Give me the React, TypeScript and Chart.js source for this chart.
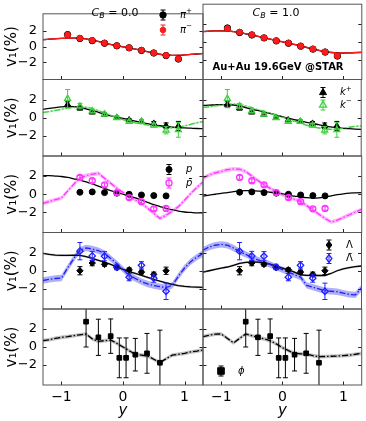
import React, { useEffect, useRef } from 'react';
import { Chart, registerables } from 'chart.js';
Chart.register(...registerables);

const W = 366;
const H = 421;
const FONT = 'DejaVu Sans';

// ---------- DATA ----------
const CURVE_X = [-1.3, -1.2, -1.1, -1.0, -0.9, -0.8, -0.7, -0.6, -0.5, -0.4, -0.3, -0.2, -0.1, 0.0, 0.1, 0.2, 0.3, 0.4, 0.5, 0.6, 0.7, 0.8, 0.9, 1.0, 1.1, 1.2, 1.3];
const X_TICKS = [-1, 0, 1];
const Y_TICKS = [-2, 0, 2];

// pions
const PI_X = [-0.9, -0.7, -0.5, -0.3, -0.1, 0.1, 0.3, 0.5, 0.7, 0.9];
const PI_PLUS = [1.54, 1.05, 0.77, 0.44, 0.11, -0.15, -0.48, -0.81, -1.14, -1.58];
const PI_PLUS_ERR = [0.18, 0.15, 0.12, 0.12, 0.12, 0.12, 0.12, 0.12, 0.15, 0.18];
const PI_MINUS = [1.5, 1.08, 0.8, 0.46, 0.13, -0.13, -0.46, -0.8, -1.12, -1.55];
const PI_MINUS_ERR = [0.18, 0.15, 0.12, 0.12, 0.12, 0.12, 0.12, 0.12, 0.15, 0.18];
const PI_PLUS_CURVE_CB0 = [0.88, 0.95, 1.0, 1.05, 1.08, 1.1, 1.08, 1.0, 0.85, 0.66, 0.46, 0.28, 0.12, -0.02, -0.16, -0.31, -0.48, -0.65, -0.82, -0.97, -1.07, -1.12, -1.11, -1.06, -1.0, -0.94, -0.88];
const PI_MINUS_CURVE_CB0 = [0.9, 0.97, 1.02, 1.06, 1.09, 1.1, 1.07, 0.98, 0.84, 0.65, 0.45, 0.27, 0.11, -0.03, -0.17, -0.32, -0.49, -0.66, -0.83, -0.98, -1.08, -1.12, -1.1, -1.05, -0.99, -0.93, -0.86];
const PI_PLUS_CURVE_CB1 = [1.15, 1.2, 1.22, 1.24, 1.22, 1.15, 1.05, 0.9, 0.75, 0.6, 0.45, 0.3, 0.14, 0.0, -0.15, -0.3, -0.47, -0.63, -0.8, -0.96, -1.1, -1.19, -1.24, -1.25, -1.23, -1.2, -1.18];
const PI_MINUS_CURVE_CB1 = [1.13, 1.19, 1.22, 1.23, 1.21, 1.14, 1.04, 0.9, 0.76, 0.61, 0.46, 0.31, 0.15, 0.01, -0.14, -0.29, -0.46, -0.62, -0.79, -0.95, -1.09, -1.18, -1.23, -1.24, -1.22, -1.19, -1.17];
const PI_BAND = 0.07;

// kaons
const K_X = [-0.9, -0.7, -0.5, -0.3, -0.1, 0.1, 0.3, 0.5, 0.7, 0.9];
const K_PLUS = [1.45, 1.05, 0.6, 0.37, 0.02, -0.25, -0.4, -0.62, -0.87, -0.9];
const K_PLUS_ERR = [0.3, 0.2, 0.15, 0.15, 0.15, 0.15, 0.15, 0.2, 0.3, 0.5];
const K_MINUS = [2.1, 1.27, 0.73, 0.37, 0.0, -0.43, -0.43, -0.83, -1.37, -1.34];
const K_MINUS_ERR = [1.0, 0.3, 0.2, 0.15, 0.15, 0.15, 0.15, 0.2, 0.4, 0.8];
const K_PLUS_CURVE_CB0 = [0.92, 1.02, 1.12, 1.2, 1.24, 1.22, 1.12, 0.98, 0.8, 0.6, 0.4, 0.2, 0.05, -0.08, -0.22, -0.38, -0.52, -0.65, -0.78, -0.88, -0.95, -1.02, -1.08, -1.12, -1.15, -1.18, -1.2];
const K_MINUS_CURVE_CB0 = [0.58, 0.68, 0.8, 0.92, 1.05, 1.15, 1.2, 1.15, 1.0, 0.78, 0.52, 0.26, 0.02, -0.2, -0.4, -0.56, -0.68, -0.78, -0.88, -0.98, -1.06, -1.1, -1.05, -0.9, -0.72, -0.55, -0.42];
const K_PLUS_CURVE_CB1 = [1.35, 1.38, 1.42, 1.45, 1.45, 1.4, 1.3, 1.12, 0.95, 0.8, 0.65, 0.48, 0.3, 0.12, -0.05, -0.2, -0.35, -0.5, -0.62, -0.76, -0.9, -1.0, -1.1, -1.16, -1.2, -1.24, -1.28];
const K_MINUS_CURVE_CB1 = [1.13, 1.2, 1.3, 1.4, 1.48, 1.5, 1.45, 1.3, 1.1, 0.9, 0.7, 0.5, 0.3, 0.08, -0.15, -0.38, -0.6, -0.8, -0.98, -1.12, -1.22, -1.28, -1.25, -1.15, -1.05, -0.95, -0.9];
const K_BAND = 0.1;

// protons
const P_X = [-0.7, -0.5, -0.3, -0.1, 0.1, 0.3, 0.5, 0.7];
const P_VAL = [0.22, 0.26, 0.18, 0.12, 0.0, -0.08, -0.15, -0.18];
const P_ERR = [0.1, 0.1, 0.1, 0.1, 0.1, 0.1, 0.1, 0.1];
const PBAR_VAL = [1.85, 1.48, 1.03, 0.18, -0.37, -0.82, -1.6, -1.56];
const PBAR_ERR = [0.2, 0.2, 0.2, 0.2, 0.2, 0.2, 0.2, 0.2];
const P_CURVE_CB0 = [2.05, 2.05, 2.0, 1.95, 1.85, 1.7, 1.55, 1.35, 1.15, 0.9, 0.65, 0.4, 0.2, 0.0, -0.2, -0.4, -0.65, -0.9, -1.15, -1.35, -1.55, -1.7, -1.85, -1.95, -2.0, -2.05, -2.05];
const PBAR_CURVE_CB0 = [-1.0, -0.8, -0.6, -0.42, 0.35, 1.1, 1.78, 2.05, 2.2, 2.3, 1.75, 1.2, 0.67, 0.2, -0.26, -0.62, -1.0, -1.55, -2.1, -2.65, -2.3, -1.85, -1.37, -0.65, 0.07, 0.75, 1.35];
const P_CURVE_CB1 = [-0.2, -0.1, 0.0, 0.1, 0.18, 0.28, 0.37, 0.4, 0.4, 0.35, 0.3, 0.22, 0.15, 0.05, -0.1, -0.2, -0.3, -0.38, -0.42, -0.4, -0.3, -0.18, -0.05, 0.05, 0.12, 0.15, 0.18];
const PBAR_CURVE_CB1 = [1.78, 2.1, 2.35, 2.5, 2.7, 2.78, 2.75, 2.5, 2.0, 1.5, 1.03, 0.65, 0.3, -0.02, -0.33, -0.55, -0.8, -1.25, -1.74, -2.2, -2.65, -3.04, -2.85, -2.55, -2.25, -1.95, -1.67];
const PBAR_BAND = 0.22;

// lambdas
const L_X = [-0.7, -0.5, -0.3, -0.1, 0.1, 0.3, 0.5, 0.7];
const L_VAL = [0.0, 0.85, 0.7, 0.33, 0.11, -0.15, -0.4, 0.0];
const L_ERR = [0.45, 0.3, 0.2, 0.2, 0.2, 0.2, 0.25, 0.4];
const LBAR_VAL = [2.15, 1.63, 1.6, 0.41, -0.7, 0.6, -0.81, -2.26];
const LBAR_ERR = [0.95, 0.5, 0.5, 0.3, 0.4, 0.4, 0.45, 0.9];
const L_CURVE_CB0 = [1.9, 1.8, 1.72, 1.68, 1.68, 1.7, 1.68, 1.55, 1.35, 1.15, 0.95, 0.7, 0.42, 0.15, -0.1, -0.3, -0.5, -0.72, -0.95, -1.15, -1.33, -1.5, -1.63, -1.72, -1.78, -1.8, -1.82];
const LBAR_CURVE_CB0 = [-1.07, -0.95, -0.85, -0.8, 0.3, 1.35, 2.26, 2.5, 2.4, 2.2, 1.9, 1.35, 0.78, 0.15, -0.5, -0.85, -1.2, -1.45, -1.63, -1.75, -1.85, -1.6, -0.6, 0.3, 1.0, 1.5, 1.9];
const L_CURVE_CB1 = [-0.15, 0.0, 0.15, 0.3, 0.41, 0.6, 0.8, 0.92, 0.96, 0.94, 0.9, 0.72, 0.5, 0.3, 0.11, -0.15, -0.44, -0.5, -0.52, -0.52, -0.52, -0.3, 0.0, 0.2, 0.35, 0.45, 0.52];
const LBAR_CURVE_CB1 = [2.26, 2.6, 2.8, 2.9, 2.8, 2.5, 2.1, 1.8, 1.5, 1.2, 0.96, 0.68, 0.4, 0.12, -0.15, -0.42, -0.7, -1.6, -1.8, -2.0, -2.2, -2.25, -2.3, -2.45, -2.6, -2.65, -1.9];
const L_BAND = 0.12;
const LBAR_BAND = 0.35;

// phi
const PHI_X = [-0.6, -0.4, -0.2, -0.06, 0.05, 0.2, 0.39, 0.6];
const PHI_VAL = [2.8, 1.07, 1.2, -1.2, -1.2, -0.85, -0.7, -1.74];
const PHI_ERR = [2.8, 2.0, 1.9, 2.2, 2.2, 1.8, 2.2, 3.6];
const PHI_CURVE_CB0 = [0.7, 0.8, 0.95, 1.07, 1.15, 1.25, 1.35, 1.44, 0.9, 0.62, 0.7, 0.78, 0.4, 0.0, -0.4, -0.8, -0.9, -1.0, -1.35, -1.74, -1.3, -0.9, -0.8, -0.7, -0.55, -0.45, -0.33];
const PHI_CURVE_CB1 = [1.15, 1.3, 1.42, 1.44, 0.95, 0.45, 0.95, 1.44, 1.25, 1.07, 0.9, 0.7, 0.35, -0.07, -0.4, -0.7, -0.75, -0.8, -0.95, -1.07, -1.05, -1.02, -1.0, -0.95, -0.9, -0.8, -0.7];
const PHI_BAND = 0.2;

// ---------- LAYOUT ----------
const COL_X: [number, number][] = [[43, 203], [203, 362.5]];
const ROW_Y: [number, number][] = [[3, 79.5], [79.5, 156], [156, 232.5], [232.5, 309], [309, 385]];

type Style = 'circle' | 'triangle' | 'rectRot' | 'rect';
type Curve = { v: number[]; color: string; width?: number; dash?: number[]; band?: number; bandColor?: string; smooth?: boolean };
type Pts = { x: number[]; y: number[]; e: number[]; style: Style; color: string; open?: boolean; r?: number };
type Seg = { t: string; it?: boolean; sup?: boolean; sub?: boolean; bold?: boolean };
type Leg = { x: number; y: number; style: Style; color: string; open?: boolean; r?: number; label: Seg[] };
type Txt = { cx: number; cy: number; size: number; segs: Seg[]; color?: string };
type Panel = { col: 0 | 1; row: number; curves: Curve[]; pts: Pts[]; legend: Leg[]; texts: Txt[] };

const RED = '#ff1a1a';
const GREEN = '#3fcf3f';
const MAG = '#ff33ff';
const BLUE = '#2020ff';
const DASHDOT = [6, 2, 1.5, 2];

const piPts: Pts[] = [
  { x: PI_X, y: PI_MINUS, e: PI_MINUS_ERR, style: 'circle', color: RED, r: 2.8 },
  { x: PI_X, y: PI_PLUS, e: PI_PLUS_ERR, style: 'circle', color: '#000', r: 3.2 },
];
const kPts: Pts[] = [
  { x: K_X, y: K_MINUS, e: K_MINUS_ERR, style: 'triangle', color: GREEN, open: true, r: 3.5 },
  { x: K_X, y: K_PLUS, e: K_PLUS_ERR, style: 'triangle', color: '#000', r: 3.5 },
];
const pPts: Pts[] = [
  { x: P_X, y: PBAR_VAL, e: PBAR_ERR, style: 'circle', color: MAG, open: true, r: 3 },
  { x: P_X, y: P_VAL, e: P_ERR, style: 'circle', color: '#000', r: 3 },
];
const lPts: Pts[] = [
  { x: L_X, y: LBAR_VAL, e: LBAR_ERR, style: 'rectRot', color: BLUE, open: true, r: 3.2 },
  { x: L_X, y: L_VAL, e: L_ERR, style: 'rectRot', color: '#000', r: 3.2 },
];
const phiPts: Pts[] = [{ x: PHI_X, y: PHI_VAL, e: PHI_ERR, style: 'rect', color: '#000', r: 3.3 }];

const cbText = (cx: number, val: string): Txt => ({
  cx, cy: 13, size: 11,
  segs: [{ t: 'C', it: true }, { t: 'B', it: true, sub: true }, { t: ' = ' + val }],
});

const PANELS: Panel[] = [
  {
    col: 0, row: 0,
    curves: [
      { v: PI_MINUS_CURVE_CB0, color: RED, band: PI_BAND, bandColor: 'rgba(255,110,110,0.55)', smooth: true },
      { v: PI_PLUS_CURVE_CB0, color: '#000', smooth: true },
    ],
    pts: piPts,
    legend: [
      { x: 163, y: 15, style: 'circle', color: '#000', r: 3.2, label: [{ t: 'π', it: true }, { t: '+', sup: true }] },
      { x: 163, y: 30, style: 'circle', color: RED, r: 2.8, label: [{ t: 'π', it: true }, { t: '−', sup: true }] },
    ],
    texts: [cbText(115, '0.0')],
  },
  {
    col: 1, row: 0,
    curves: [
      { v: PI_MINUS_CURVE_CB1, color: RED, band: PI_BAND, bandColor: 'rgba(255,110,110,0.55)', smooth: true },
      { v: PI_PLUS_CURVE_CB1, color: '#000', smooth: true },
    ],
    pts: piPts,
    legend: [],
    texts: [cbText(276, '1.0'), { cx: 278, cy: 67, size: 10, segs: [{ t: 'Au+Au 19.6GeV @STAR', bold: true }] }],
  },
  {
    col: 0, row: 1,
    curves: [
      { v: K_MINUS_CURVE_CB0, color: GREEN, dash: DASHDOT, band: K_BAND, bandColor: 'rgba(120,230,120,0.5)', smooth: true },
      { v: K_PLUS_CURVE_CB0, color: '#000', smooth: true },
    ],
    pts: kPts, legend: [], texts: [],
  },
  {
    col: 1, row: 1,
    curves: [
      { v: K_MINUS_CURVE_CB1, color: GREEN, dash: DASHDOT, band: K_BAND, bandColor: 'rgba(120,230,120,0.5)', smooth: true },
      { v: K_PLUS_CURVE_CB1, color: '#000', smooth: true },
    ],
    pts: kPts,
    legend: [
      { x: 323, y: 92.5, style: 'triangle', color: '#000', r: 3.5, label: [{ t: 'k', it: true }, { t: '+', sup: true }] },
      { x: 323, y: 105, style: 'triangle', color: GREEN, open: true, r: 3.5, label: [{ t: 'k', it: true }, { t: '−', sup: true }] },
    ],
    texts: [],
  },
  {
    col: 0, row: 2,
    curves: [
      { v: PBAR_CURVE_CB0, color: MAG, dash: DASHDOT, band: PBAR_BAND, bandColor: 'rgba(255,120,255,0.55)' },
      { v: P_CURVE_CB0, color: '#000', smooth: true },
    ],
    pts: pPts,
    legend: [
      { x: 169, y: 169.5, style: 'circle', color: '#000', label: [{ t: 'p', it: true }] },
      { x: 169, y: 183, style: 'circle', color: MAG, open: true, label: [{ t: 'p̄', it: true }] },
    ],
    texts: [],
  },
  {
    col: 1, row: 2,
    curves: [
      { v: PBAR_CURVE_CB1, color: MAG, dash: DASHDOT, band: PBAR_BAND, bandColor: 'rgba(255,120,255,0.55)' },
      { v: P_CURVE_CB1, color: '#000', smooth: true },
    ],
    pts: pPts, legend: [], texts: [],
  },
  {
    col: 0, row: 3,
    curves: [
      { v: LBAR_CURVE_CB0, color: BLUE, dash: DASHDOT, band: LBAR_BAND, bandColor: 'rgba(110,110,240,0.55)' },
      { v: L_CURVE_CB0, color: '#000', band: L_BAND, bandColor: 'rgba(150,150,150,0.5)' },
    ],
    pts: lPts, legend: [], texts: [],
  },
  {
    col: 1, row: 3,
    curves: [
      { v: LBAR_CURVE_CB1, color: BLUE, dash: DASHDOT, band: LBAR_BAND, bandColor: 'rgba(110,110,240,0.55)' },
      { v: L_CURVE_CB1, color: '#000', band: L_BAND, bandColor: 'rgba(150,150,150,0.5)' },
    ],
    pts: lPts,
    legend: [
      { x: 329, y: 245, style: 'rectRot', color: '#000', r: 3.2, label: [{ t: 'Λ' }] },
      { x: 329, y: 258.5, style: 'rectRot', color: BLUE, open: true, r: 3.2, label: [{ t: 'Λ̄' }] },
    ],
    texts: [],
  },
  {
    col: 0, row: 4,
    curves: [{ v: PHI_CURVE_CB0, color: '#000', dash: DASHDOT, band: PHI_BAND, bandColor: 'rgba(140,140,140,0.55)' }],
    pts: phiPts, legend: [], texts: [],
  },
  {
    col: 1, row: 4,
    curves: [{ v: PHI_CURVE_CB1, color: '#000', dash: DASHDOT, band: PHI_BAND, bandColor: 'rgba(140,140,140,0.55)' }],
    pts: phiPts,
    legend: [{ x: 221, y: 371, style: 'rect', color: '#000', r: 3.3, label: [{ t: 'ϕ', it: true }] }],
    texts: [],
  },
];

// ---------- HELPERS ----------
const xy = (xs: number[], ys: number[]) => xs.map((x, i) => ({ x, y: ys[i] }));
const fmt = (v: number) => (v < 0 ? '−' + Math.abs(v) : String(v));

function markerPath(ctx: CanvasRenderingContext2D, style: Style, x: number, y: number, r: number) {
  ctx.beginPath();
  if (style === 'circle') ctx.arc(x, y, r, 0, Math.PI * 2);
  else if (style === 'triangle') {
    ctx.moveTo(x, y - r * 1.15);
    ctx.lineTo(x + r, y + r * 0.6);
    ctx.lineTo(x - r, y + r * 0.6);
    ctx.closePath();
  } else if (style === 'rectRot') {
    ctx.moveTo(x, y - r * 1.2);
    ctx.lineTo(x + r * 0.9, y);
    ctx.lineTo(x, y + r * 1.2);
    ctx.lineTo(x - r * 0.9, y);
    ctx.closePath();
  } else {
    ctx.rect(x - r, y - r, 2 * r, 2 * r);
  }
}

function drawErr(ctx: CanvasRenderingContext2D, x: number, y1: number, y2: number, color: string) {
  ctx.strokeStyle = color;
  ctx.lineWidth = 1;
  ctx.beginPath();
  ctx.moveTo(x, y1);
  ctx.lineTo(x, y2);
  ctx.moveTo(x - 2.5, y1);
  ctx.lineTo(x + 2.5, y1);
  ctx.moveTo(x - 2.5, y2);
  ctx.lineTo(x + 2.5, y2);
  ctx.stroke();
}

function segFont(s: Seg, size: number) {
  const sz = s.sup || s.sub ? size * 0.72 : size;
  return `${s.it ? 'italic ' : ''}${s.bold ? 'bold ' : ''}${sz}px "${FONT}"`;
}

function drawRich(ctx: CanvasRenderingContext2D, segs: Seg[], x: number, cy: number, size: number, align: 'left' | 'center', color = '#000') {
  ctx.save();
  ctx.textBaseline = 'middle';
  ctx.textAlign = 'left';
  ctx.fillStyle = color;
  let total = 0;
  for (const s of segs) {
    ctx.font = segFont(s, size);
    total += ctx.measureText(s.t).width;
  }
  let cx = align === 'center' ? x - total / 2 : x;
  for (const s of segs) {
    ctx.font = segFont(s, size);
    const dy = s.sup ? -size * 0.35 : s.sub ? size * 0.3 : 0;
    ctx.fillText(s.t, cx, cy + dy);
    cx += ctx.measureText(s.t).width;
  }
  ctx.restore();
}

function buildConfig(p: Panel): any {
  const [x0, x1] = COL_X[p.col];
  const [y0, y1] = ROW_Y[p.row];
  const showY = p.col === 0;
  const showX = p.row === 4;
  const datasets: any[] = [];
  p.pts.forEach((s) => {
    datasets.push({
      data: xy(s.x, s.y),
      showLine: false,
      pointStyle: s.style,
      pointRadius: s.r ?? 3,
      pointHoverRadius: s.r ?? 3,
      pointBackgroundColor: s.open ? 'rgba(0,0,0,0)' : s.color,
      pointBorderColor: s.color,
      pointBorderWidth: s.open ? 1.3 : 1,
      errors: s.e,
      errColor: s.color,
      order: 0,
    });
  });
  p.curves.forEach((c) => {
    datasets.push({
      data: xy(CURVE_X, c.v),
      borderColor: c.color,
      borderWidth: c.width ?? 1.3,
      borderDash: c.dash ?? [],
      pointRadius: 0,
      fill: false,
      cubicInterpolationMode: c.smooth ? 'monotone' : 'default',
      tension: 0,
      order: 1,
    });
  });
  p.curves.forEach((c) => {
    if (!c.band) return;
    datasets.push({
      data: xy(CURVE_X, c.v.map((v) => v + (c.band as number))),
      borderWidth: 0,
      pointRadius: 0,
      fill: '+1',
      backgroundColor: c.bandColor,
      cubicInterpolationMode: c.smooth ? 'monotone' : 'default',
      order: 2,
    });
    datasets.push({
      data: xy(CURVE_X, c.v.map((v) => v - (c.band as number))),
      borderWidth: 0,
      pointRadius: 0,
      fill: false,
      cubicInterpolationMode: c.smooth ? 'monotone' : 'default',
      order: 2,
    });
  });

  const deco = {
    id: 'deco',
    beforeDatasetDraw(chart: any, args: any) {
      const ds = chart.data.datasets[args.index];
      if (!ds.errors) return;
      const { ctx, chartArea } = chart;
      const ys = chart.scales.y;
      const meta = chart.getDatasetMeta(args.index);
      ctx.save();
      ctx.beginPath();
      ctx.rect(chartArea.left, chartArea.top, chartArea.right - chartArea.left, chartArea.bottom - chartArea.top);
      ctx.clip();
      ds.data.forEach((d: any, i: number) => {
        const px = meta.data[i].x;
        drawErr(ctx, px, ys.getPixelForValue(d.y + ds.errors[i]), ys.getPixelForValue(d.y - ds.errors[i]), ds.errColor);
      });
      ctx.restore();
    },
    afterDraw(chart: any) {
      const { ctx, chartArea: a } = chart;
      const xs = chart.scales.x;
      const ys = chart.scales.y;
      ctx.save();
      // inward ticks
      ctx.strokeStyle = '#222';
      ctx.lineWidth = 1;
      ctx.beginPath();
      X_TICKS.forEach((v) => {
        const px = Math.round(xs.getPixelForValue(v)) + 0.5;
        ctx.moveTo(px, a.bottom);
        ctx.lineTo(px, a.bottom - 3.5);
      });
      Y_TICKS.forEach((v) => {
        const py = Math.round(ys.getPixelForValue(v)) + 0.5;
        ctx.moveTo(a.left, py);
        ctx.lineTo(a.left + 3.5, py);
        ctx.moveTo(a.right, py);
        ctx.lineTo(a.right - 3.5, py);
      });
      ctx.stroke();
      // frame
      ctx.strokeStyle = '#555';
      ctx.lineWidth = 1;
      ctx.strokeRect(a.left, a.top, a.right - a.left, a.bottom - a.top);
      // legend
      p.legend.forEach((l) => {
        drawErr(ctx, l.x, l.y - 5, l.y + 5, l.color);
        markerPath(ctx, l.style, l.x, l.y, l.r ?? 3);
        if (!l.open) {
          ctx.fillStyle = l.color;
          ctx.fill();
        }
        ctx.strokeStyle = l.color;
        ctx.lineWidth = l.open ? 1.3 : 1;
        ctx.stroke();
        drawRich(ctx, l.label, l.x + 17, l.y, 10, 'left');
      });
      p.texts.forEach((t) => drawRich(ctx, t.segs, t.cx, t.cy, t.size, 'center', t.color));
      ctx.restore();
    },
  };

  return {
    type: 'line',
    data: { datasets },
    options: {
      animation: false,
      responsive: false,
      maintainAspectRatio: false,
      devicePixelRatio: 1,
      events: [],
      layout: {
        padding: { left: showY ? 0 : x0, right: W - x1, top: y0, bottom: showX ? 0 : H - y1 },
      },
      plugins: { legend: { display: false }, tooltip: { enabled: false } },
      scales: {
        x: {
          type: 'linear',
          min: -1.3,
          max: 1.3,
          display: showX,
          afterBuildTicks: (s: any) => {
            s.ticks = X_TICKS.map((v) => ({ value: v }));
          },
          afterFit: (s: any) => {
            s.height = showX ? 36 : 0;
          },
          grid: { display: false, drawTicks: false },
          border: { display: false },
          ticks: { padding: 4, color: '#000', font: { size: 14, family: FONT }, callback: (v: number) => fmt(v), maxRotation: 0 },
          title: { display: true, text: 'y', color: '#000', font: { size: 15, style: 'italic', family: FONT }, padding: { top: 0, bottom: 1 } },
        },
        y: {
          type: 'linear',
          min: -4.2,
          max: 4.2,
          display: showY,
          afterBuildTicks: (s: any) => {
            s.ticks = Y_TICKS.map((v) => ({ value: v }));
          },
          afterFit: (s: any) => {
            s.width = showY ? x0 : 0;
          },
          grid: { display: false, drawTicks: false },
          border: { display: false },
          ticks: { padding: 6, color: '#000', font: { size: 13, family: FONT }, callback: (v: number) => fmt(v) },
          title: { display: true, text: 'v₁(%)', color: '#000', font: { size: 15, family: FONT }, padding: { top: 3, bottom: 0 } },
        },
      },
    },
    plugins: [deco],
  };
}

export default function App() {
  const refs = useRef<(HTMLCanvasElement | null)[]>([]);
  useEffect(() => {
    const charts = PANELS.map((p, i) => new Chart(refs.current[i] as HTMLCanvasElement, buildConfig(p)));
    return () => charts.forEach((c) => c.destroy());
  }, []);
  return (
    <div style={{ position: 'absolute', left: 0, top: 0, width: W, height: H, background: '#fff' }}>
      {PANELS.map((_, i) => (
        <canvas
          key={i}
          ref={(el) => {
            refs.current[i] = el;
          }}
          width={W}
          height={H}
          style={{ position: 'absolute', left: 0, top: 0, width: W, height: H }}
        />
      ))}
    </div>
  );
}
